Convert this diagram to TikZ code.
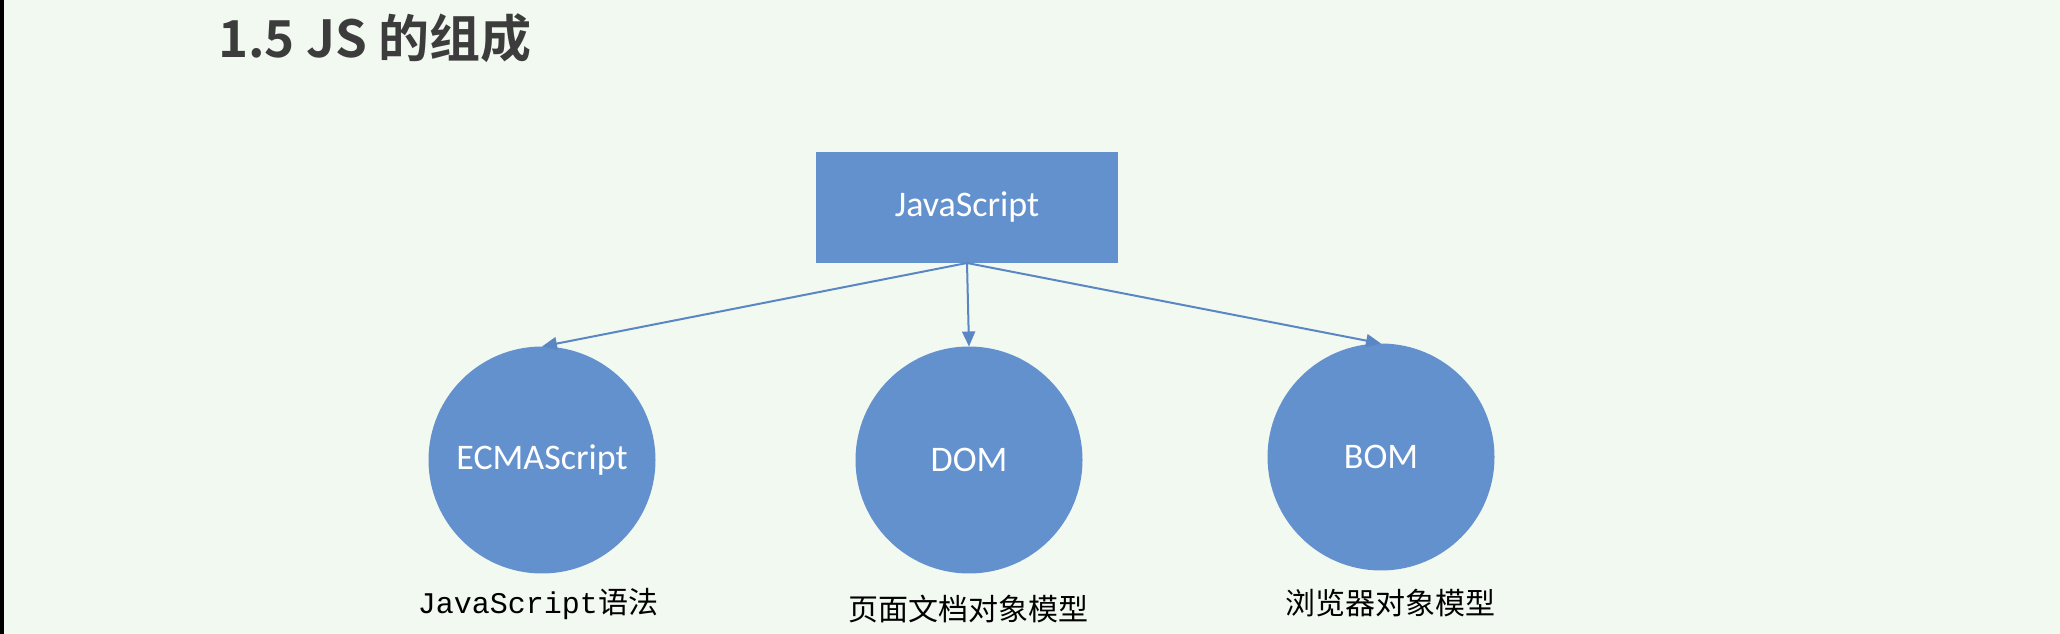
\documentclass[tikz,border=0pt]{standalone}
\usepackage{fontspec}
\setmainfont{Carlito}
\newfontfamily\cjk{Noto Sans CJK SC}
\newfontfamily\cjkbold{Noto Sans CJK SC Bold}
\newfontfamily\mono{Liberation Mono}
\usetikzlibrary{arrows.meta}
\definecolor{slidebg}{HTML}{F2F9F1}
\definecolor{shapefill}{HTML}{6391CD}
\definecolor{linkblue}{HTML}{5A86C4}
\definecolor{titlegray}{HTML}{3C3C3C}

\begin{document}
\begin{tikzpicture}
      [x = 1pt, y = 1pt,
      link/.style={
         draw = linkblue,
         line width = 2pt,
         -{Triangle[length = 15pt, width = 13pt]}
      },
      topbox/.style= {
         fill = shapefill,
         rectangle,
         inner sep = 0pt,
         outer sep = 0pt,
         minimum width = 302pt,
         minimum height = 111pt,
         text = white,
         font = \fontsize{36}{40}\selectfont
      },
      part/.style= {
         fill = shapefill,
         circle,
         inner sep = 0pt,
         outer sep = 0pt,
         minimum size = 227pt,
         text = white,
         font = \fontsize{36}{40}\selectfont
      },
      caption/.style= {
         text = black,
         inner sep = 0pt,
         font = \fontsize{30}{34}\selectfont\cjk
      }]

      % slide background
      \fill[slidebg] (0, 0) rectangle (2060, 634);
      \fill[black] (0, 0) rectangle (4, 634);

      \node[anchor = west, text = titlegray, inner sep = 0pt,
         font = \fontsize{51}{55}\selectfont\cjkbold] (title) at (218, 596) {1.5 JS 的组成};

      \node[topbox] (js) at (967, 426.5) {JavaScript};

      \node[part] (ecma) at (542, 174) {ECMAScript};
      \node[part] (dom) at (969, 174) {DOM};
      \node[part] (bom) at (1381, 177) {BOM};

      \draw[link] (js.south) -- (ecma.north);
      \draw[link] (js.south) -- (dom.north);
      \draw[link] (js.south) -- (bom.north);

      \node[caption] (ecmatext) at (538, 30) {{\mono JavaScript}语法};
      \node[caption] (domtext) at (968, 25) {页面文档对象模型};
      \node[caption] (bomtext) at (1390, 31) {浏览器对象模型};

   \end{tikzpicture}
\end{document}
